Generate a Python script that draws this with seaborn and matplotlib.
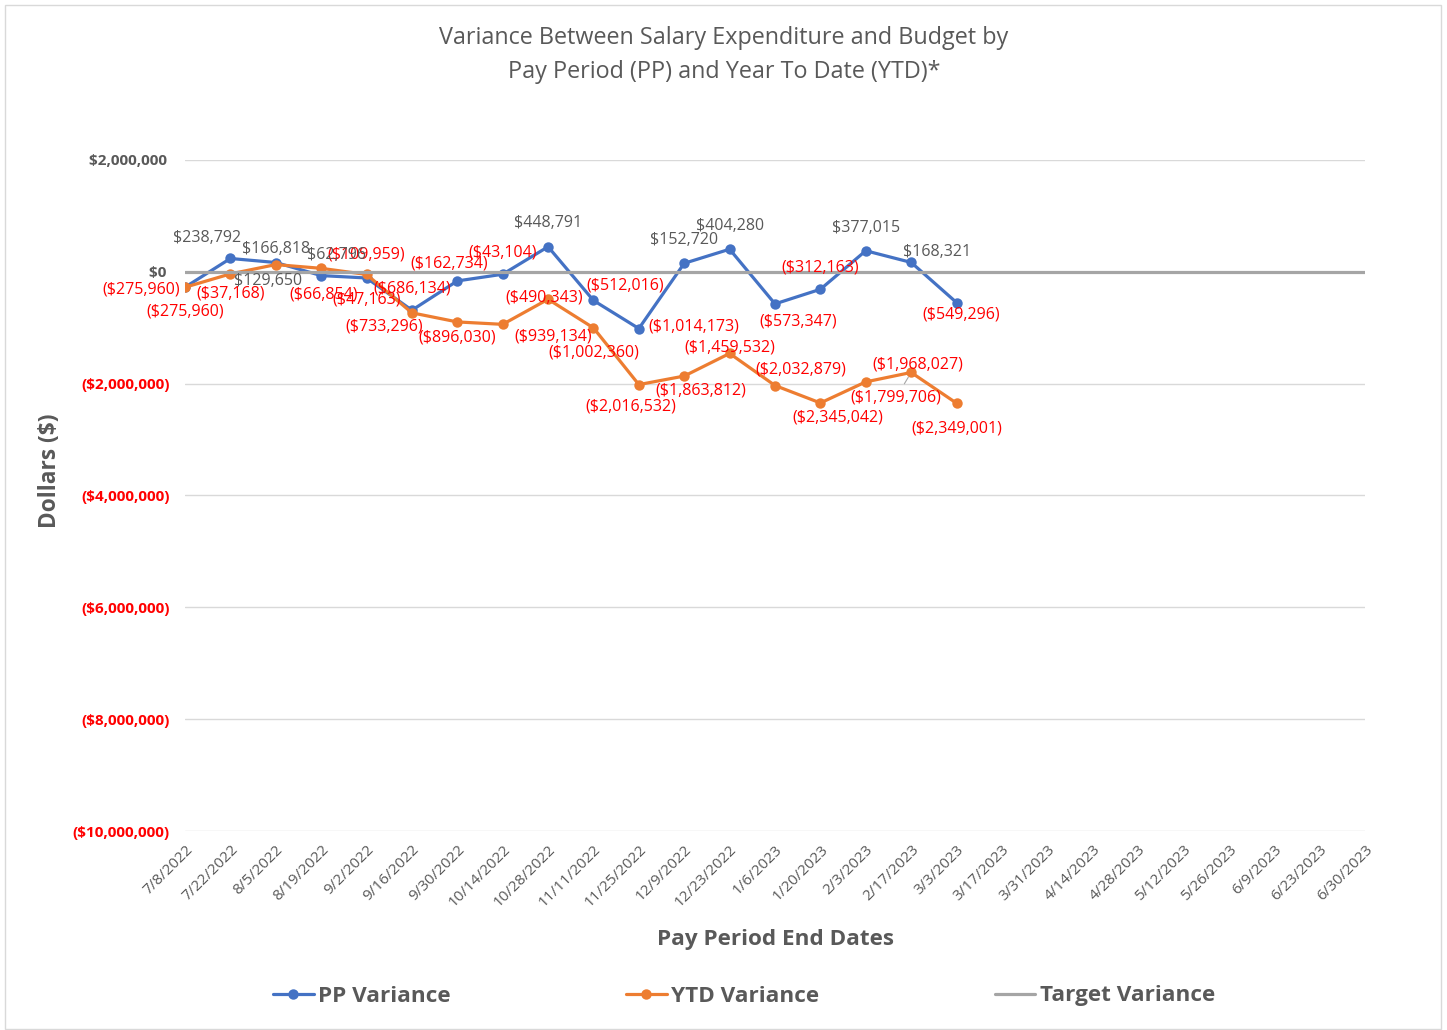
import matplotlib
matplotlib.use('Agg')
import matplotlib.pyplot as plt
import seaborn as sns
import pandas as pd
from matplotlib.patches import Rectangle
from matplotlib.lines import Line2D

# ---------------- data ----------------
dates = ["7/8/2022", "7/22/2022", "8/5/2022", "8/19/2022", "9/2/2022", "9/16/2022",
         "9/30/2022", "10/14/2022", "10/28/2022", "11/11/2022", "11/25/2022", "12/9/2022",
         "12/23/2022", "1/6/2023", "1/20/2023", "2/3/2023", "2/17/2023", "3/3/2023",
         "3/17/2023", "3/31/2023", "4/14/2023", "4/28/2023", "5/12/2023", "5/26/2023",
         "6/9/2023", "6/23/2023", "6/30/2023"]

pp_variance = [-275960, 238792, 166818, -66854, -109959, -686134, -162734, -43104,
               448791, -512016, -1014173, 152720, 404280, -573347, -312163, 377015,
               168321, -549296]

ytd_variance = [-275960, -37168, 129650, 62796, -47163, -733296, -896030, -939134,
                -490343, -1002360, -2016532, -1863812, -1459532, -2032879, -2345042,
                -1968027, -1799706, -2349001]

target_variance = [0, 0, 0, 0, 0, 0, 0, 0, 0, 0, 0, 0, 0, 0, 0, 0, 0, 0,
                   0, 0, 0, 0, 0, 0, 0, 0, 0]

y_ticks = [2000000, 0, -2000000, -4000000, -6000000, -8000000, -10000000]

series_names = ["PP Variance", "YTD Variance", "Target Variance"]
title_text = "Variance Between Salary Expenditure and Budget by\nPay Period (PP) and Year To Date (YTD)*"

# ---------------- label placement (pixel offsets, dy positive = down) ----------------
pp_offsets = [(0, 24), (-23, -20), (0, -14), (2, 19), (0, -23), (0, -22), (-8, -17), (0, -22),
              (0, -24), (32, -15), (55, -2), (0, -23), (0, -23), (23, 18), (0, -22), (0, -23),
              (26, -10), (5, 12)]
ytd_offsets = [(-44, 2), (0, 20), (-8, 16), (15, -13), (0, 25), (-28, 14), (0, 16), (50, 12),
               (-4, -2), (0, 25), (-8, 22), (17, 14), (0, -6), (26, -16), (17, 15), (52, -17),
               (-15, 25), (0, 25)]

# ---------------- style ----------------
BLUE = "#4472C4"
ORANGE = "#ED7D31"
GRAY_LINE = "#A5A5A5"
TEXT_GRAY = "#595959"
RED = "#FF0000"

sns.set_theme(style="white")
plt.rcParams['font.family'] = ['Open Sans', 'DejaVu Sans']

W, H = 1447, 1030
fig = plt.figure(figsize=(W / 100, H / 100), dpi=100)
ax = fig.add_axes([185 / W, 1 - 831 / H, (1365 - 185) / W, (831 - 160) / H])

def money(v):
    if v < 0:
        return "(${:,.0f})".format(-v)
    return "${:,.0f}".format(v)

x_all = list(range(len(dates)))
df_pp = pd.DataFrame({"x": x_all[:len(pp_variance)], "v": pp_variance})
df_ytd = pd.DataFrame({"x": x_all[:len(ytd_variance)], "v": ytd_variance})
df_tgt = pd.DataFrame({"x": x_all[:len(target_variance)], "v": target_variance})

sns.lineplot(data=df_pp, x="x", y="v", ax=ax, color=BLUE, linewidth=2.3, marker="o",
             markersize=7.5, markeredgewidth=0, zorder=3)
sns.lineplot(data=df_ytd, x="x", y="v", ax=ax, color=ORANGE, linewidth=2.3, marker="o",
             markersize=7.5, markeredgewidth=0, zorder=3)
sns.lineplot(data=df_tgt, x="x", y="v", ax=ax, color=GRAY_LINE, linewidth=2.3, zorder=4)

ax.set_xlim(0, len(dates) - 1)
ax.set_ylim(min(y_ticks), max(y_ticks))
ax.set_yticks(y_ticks)
ax.set_yticklabels([money(t) + ("\u2009" if t >= 0 else "") for t in y_ticks],
                   fontsize=11, fontweight='bold')
for lab, t in zip(ax.get_yticklabels(), y_ticks):
    lab.set_color(RED if t < 0 else TEXT_GRAY)
ax.tick_params(axis='y', length=0, pad=11)

ax.set_xticks(x_all)
ax.set_xticklabels(dates, rotation=45, ha='right', rotation_mode='anchor',
                   fontsize=11, color=TEXT_GRAY)
ax.tick_params(axis='x', length=0, pad=8)

ax.yaxis.grid(True, color="#D9D9D9", linewidth=1)
ax.xaxis.grid(False)
for s in ax.spines.values():
    s.set_visible(False)
ax.set_xlabel("")
ax.set_ylabel("")

# data labels
LBL = 11.5
for i, (v, (dx, dy)) in enumerate(zip(pp_variance, pp_offsets)):
    ax.annotate(money(v), (i, v), xytext=(dx, -dy), textcoords='offset pixels',
                ha='center', va='center', fontsize=LBL,
                color=RED if v < 0 else TEXT_GRAY, zorder=5)
for i, (v, (dx, dy)) in enumerate(zip(ytd_variance, ytd_offsets)):
    kw = {}
    if i == 16:
        kw['arrowprops'] = dict(arrowstyle='-', color='#A6A6A6', lw=0.8, shrinkA=2, shrinkB=4)
    ax.annotate(money(v), (i, v), xytext=(dx, -dy), textcoords='offset pixels',
                ha='center', va='center', fontsize=LBL,
                color=RED if v < 0 else TEXT_GRAY, zorder=5, **kw)

# titles and axis labels
fig.text(724 / W, 1 - 55 / H, title_text, ha='center', va='center', fontsize=16.8,
         color=TEXT_GRAY, linespacing=1.5)
fig.text(50 / W, 1 - 471 / H, "Dollars ($)", rotation=90, ha='center', va='center',
         fontsize=16.3, fontweight='bold', color=TEXT_GRAY)
fig.text(775 / W, 1 - 940 / H, "Pay Period End Dates", ha='center', va='center',
         fontsize=16.2, fontweight='bold', color=TEXT_GRAY)

# legend
handles = [
    Line2D([0], [0], color=BLUE, lw=2.3, marker='o', markersize=7.5, markeredgewidth=0),
    Line2D([0], [0], color=ORANGE, lw=2.3, marker='o', markersize=7.5, markeredgewidth=0),
    Line2D([0], [0], color=GRAY_LINE, lw=2.3),
]
leg = fig.legend(handles, series_names, loc='center', bbox_to_anchor=(744 / W, 1 - 996 / H),
                 ncol=3, frameon=False, prop={'size': 16.2, 'weight': 'bold'},
                 handlelength=1.8, columnspacing=7.8, handletextpad=0.2, labelcolor=TEXT_GRAY)

# chart border
fig.add_artist(Rectangle((5 / W, 1 / H), (W - 11) / W, (H - 6) / H, transform=fig.transFigure,
                         fill=False, edgecolor="#D9D9D9", linewidth=1))

fig.savefig("out.png", dpi=100, facecolor='white')
